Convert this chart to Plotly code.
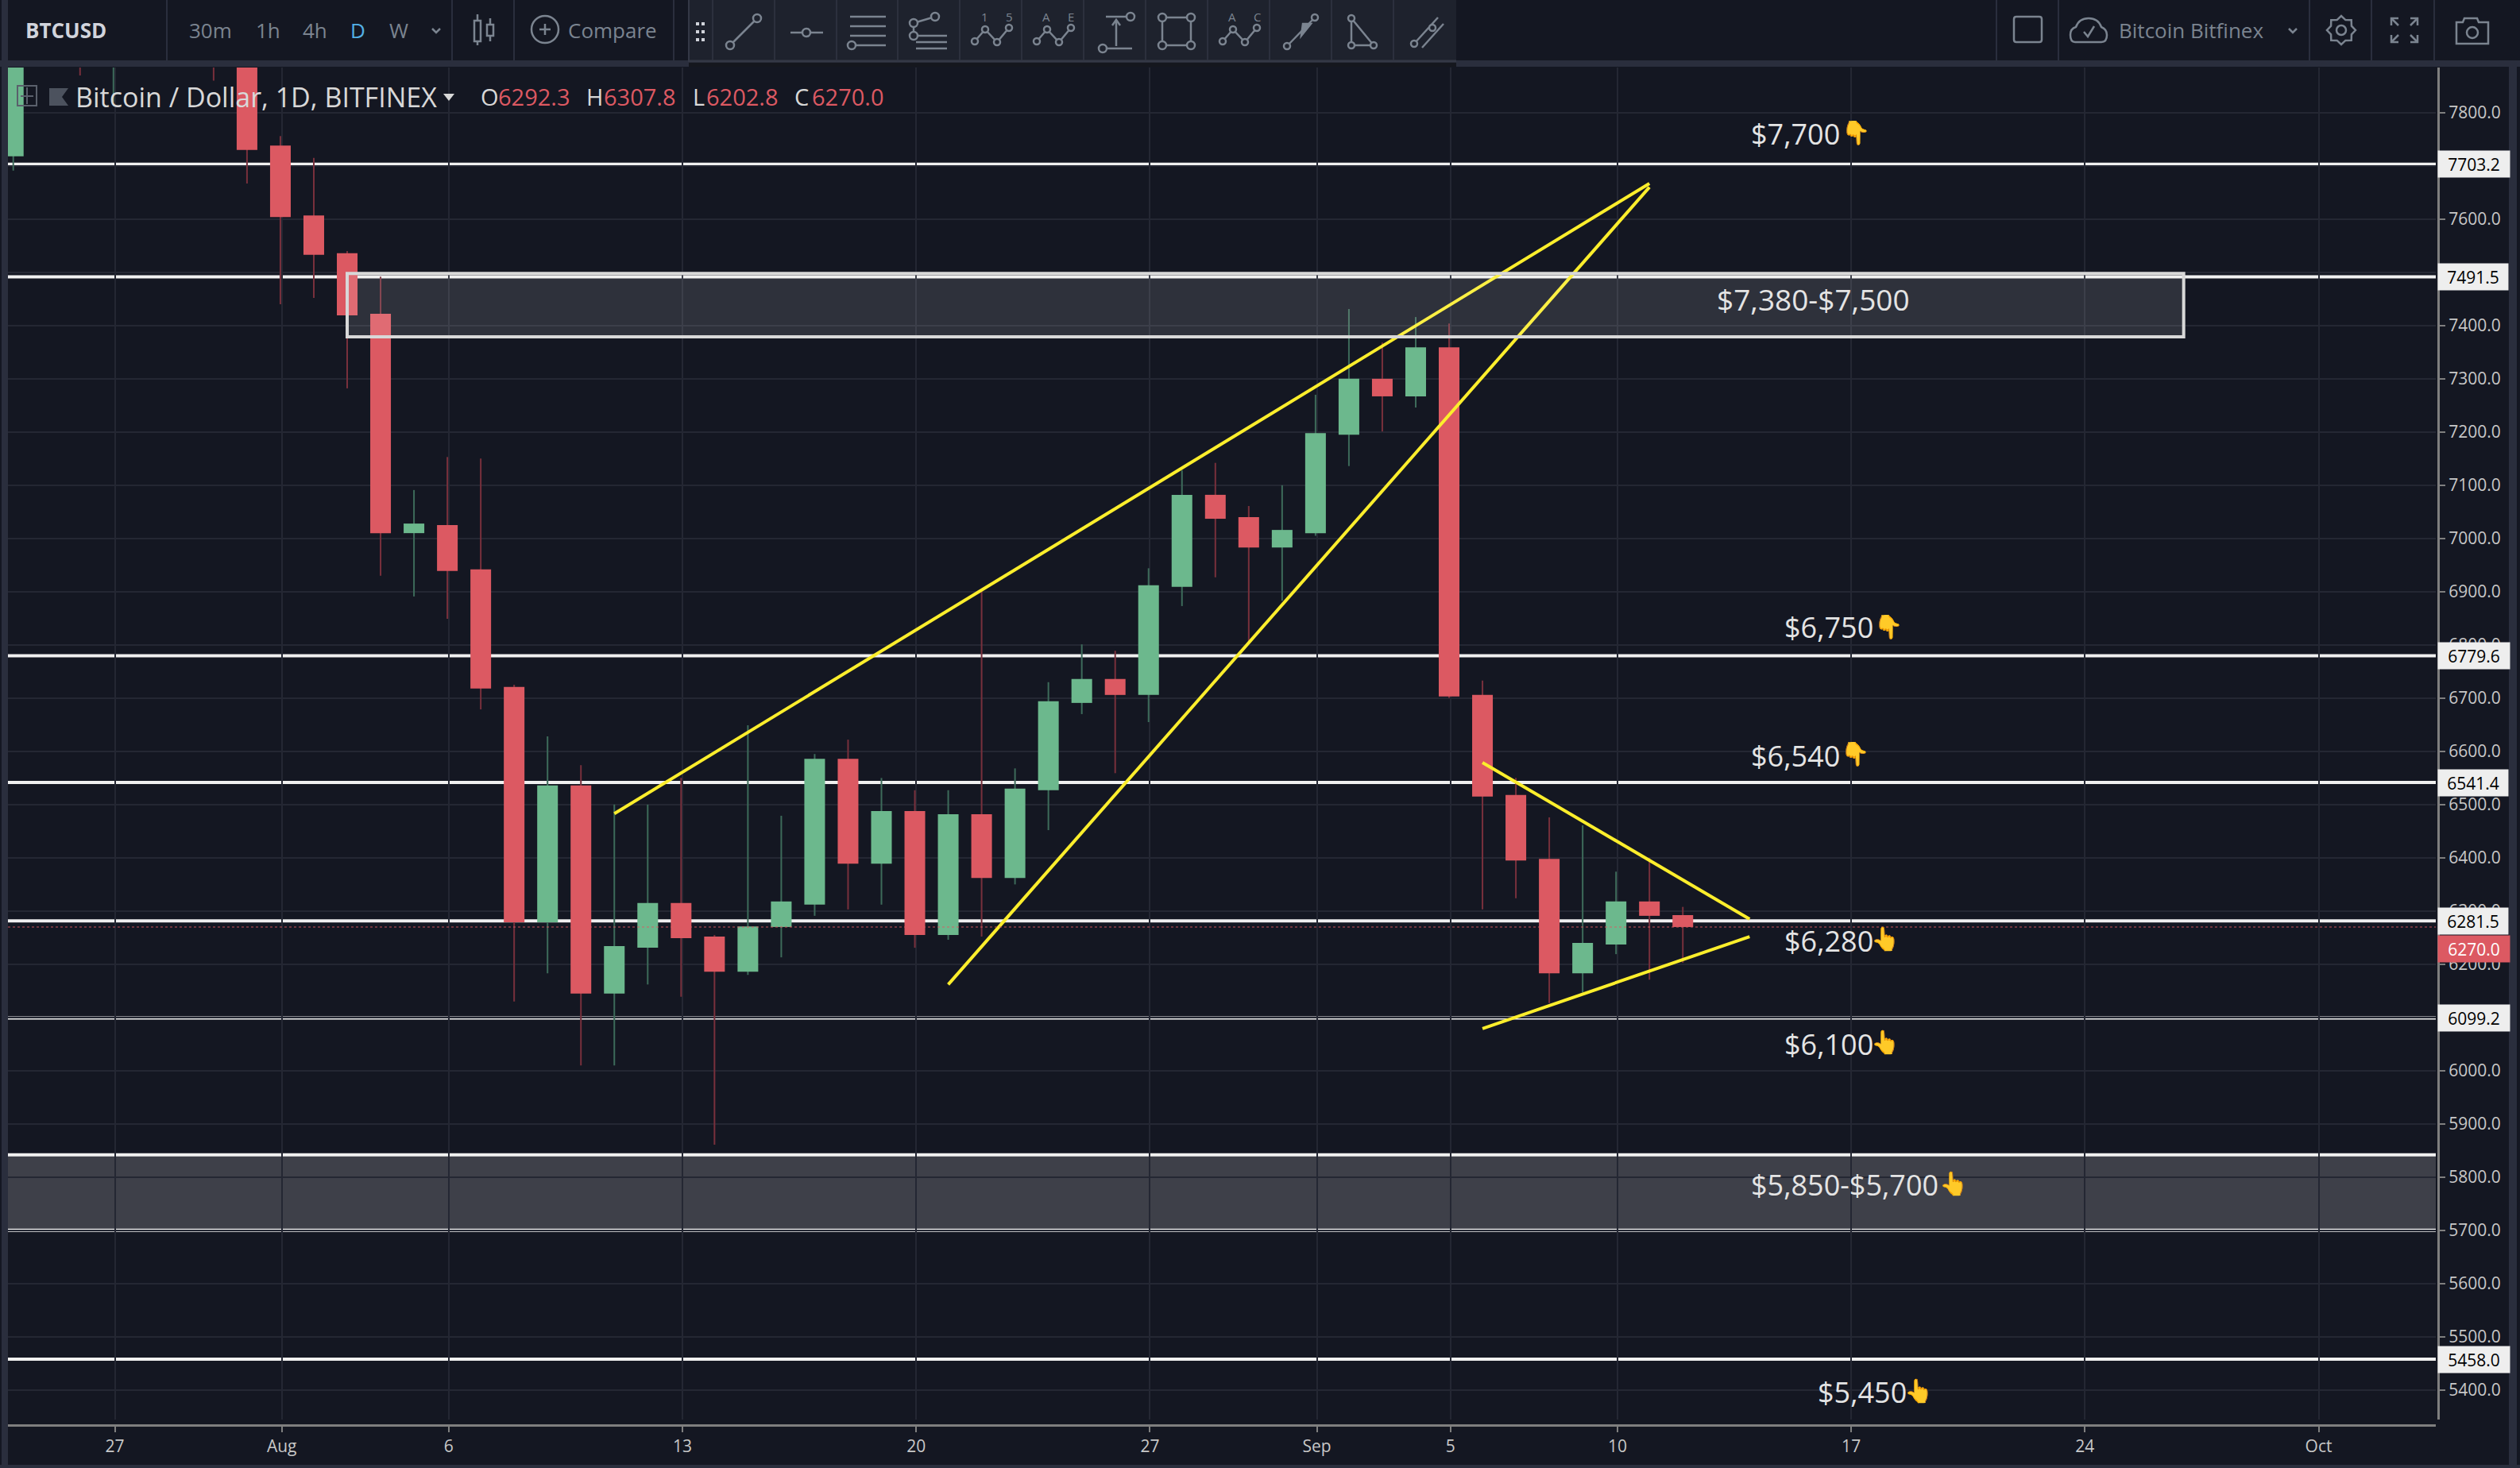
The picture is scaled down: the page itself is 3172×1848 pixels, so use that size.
import math
import pandas as pd
import plotly.graph_objects as go

# daily BTCUSD candles, first day 2018-07-24 (the ones above the chart top are only partly visible)
first_day = "2018-07-24"
opens = [7718, 8400, 8170, 7935, 8190, 8230, 8210, 8170, 7738, 7607, 7536, 7422, 7010, 7025, 6942, 6721, 6279, 6536, 6145, 6231,
         6315, 6252, 6186, 6270, 6312, 6586, 6389, 6488, 6255, 6482, 6362, 6527, 6691, 6736, 6706, 6909, 7082, 7040, 6983, 7010,
         7195, 7300, 7267, 7359, 6706, 6518, 6398, 6183, 6237, 6318, 6292.3]
highs = [8480, 8490, 8320, 8280, 8250, 8300, 8270, 8220, 7756, 7715, 7540, 7492, 7091, 7153, 7150, 6725, 6628, 6574, 6500, 6500,
         6550, 6255, 6649, 6479, 6595, 6622, 6550, 6527, 6527, 6903, 6568, 6730, 6801, 6789, 6944, 7128, 7142, 7061, 7100, 7270,
         7431, 7368, 7416, 7404, 6733, 6550, 6476, 6461, 6374, 6400, 6307.8]
lows = [7691, 8070, 7870, 7820, 8100, 8130, 7860, 7667, 7440, 7452, 7282, 6930, 6891, 6849, 6679, 6130, 6183, 6010, 6010, 6162,
        6139, 5861, 6180, 6213, 6291, 6303, 6312, 6231, 6246, 6252, 6350, 6452, 6670, 6559, 6655, 6873, 6927, 6804, 6883, 7005,
        7136, 7201, 7246, 6700, 6303, 6324, 6127, 6147, 6219, 6171, 6202.8]
closes = [8400, 8170, 7935, 8190, 8230, 8210, 8170, 7730, 7604, 7533, 7419, 7010, 7028, 6939, 6718, 6279, 6536, 6145, 6234, 6315,
          6249, 6186, 6271, 6318, 6586, 6389, 6488, 6255, 6482, 6362, 6530, 6694, 6736, 6706, 6912, 7082, 7037, 6983, 7016, 7198,
          7300, 7267, 7359, 6703, 6515, 6395, 6183, 6240, 6318, 6291, 6270.0]

# horizontal levels drawn on the chart
labelled_levels = [7703.2, 7491.5, 6779.6, 6541.4, 6281.5, 6099.2, 5458.0]
band_levels = [5842, 5700]
last_price = 6270.0
zone_top = 7498
zone_bottom = 7379
zone_start = "2018-08-03"
zone_end = "2018-09-27"

# trend lines
wedge_upper_x = ["2018-08-11", "2018-09-11"]
wedge_upper_y = [6483, 7667]
wedge_lower_x = ["2018-08-21", "2018-09-11"]
wedge_lower_y = [6162, 7660]
triangle_upper_x = ["2018-09-06", "2018-09-14"]
triangle_upper_y = [6579, 6285]
triangle_lower_x = ["2018-09-06", "2018-09-14"]
triangle_lower_y = [6079, 6252]

# axes
x_tick_dates = ["2018-07-27", "2018-08-01", "2018-08-06", "2018-08-13", "2018-08-20", "2018-08-27",
                "2018-09-01", "2018-09-05", "2018-09-10", "2018-09-17", "2018-09-24", "2018-10-01"]
x_tick_labels = ["27", "Aug", "6", "13", "20", "27", "Sep", "5", "10", "17", "24", "Oct"]
y_tick_values = [5400, 5500, 5600, 5700, 5800, 5900, 6000, 6100, 6200, 6300, 6400, 6500, 6600,
                 6700, 6800, 6900, 7000, 7100, 7200, 7300, 7400, 7500, 7600, 7700, 7800]

W, H = 3172, 1848
BG = "#141722"
STRIP = "#2a2e3d"
PANEL = "#1e222d"
ICON = "#7b8490"
UP = "#6cb88d"
DOWN = "#dc5962"
UP_WICK = "#3d6b5a"
DOWN_WICK = "#78303c"
YELLOW = "#fcee2c"
WHITE_LINE = "#f0f0f0"
FONT = "Open Sans"


def fx(x):
    return x / W


def fy(y):
    return 1 - y / H


shapes = []
annots = []


def seg(x0, y0, x1, y1, color=ICON, w=2.5):
    shapes.append(dict(type="line", xref="paper", yref="paper", x0=fx(x0), x1=fx(x1), y0=fy(y0), y1=fy(y1),
                       line=dict(color=color, width=w)))


def box(x0, y0, x1, y1, fill="rgba(0,0,0,0)", color=None, w=0):
    shapes.append(dict(type="rect", xref="paper", yref="paper", x0=fx(x0), x1=fx(x1), y0=fy(y0), y1=fy(y1),
                       fillcolor=fill, line=dict(color=color, width=w)))


def dot(cx, cy, r, color=ICON, w=2.5, fill=PANEL):
    shapes.append(dict(type="circle", xref="paper", yref="paper", x0=fx(cx - r), x1=fx(cx + r), y0=fy(cy - r), y1=fy(cy + r),
                       fillcolor=fill, line=dict(color=color, width=w)))


def path(cmds, fill="rgba(0,0,0,0)", color=ICON, w=2.5):
    parts = []
    for c in cmds:
        if c == "Z":
            parts.append("Z")
            continue
        nums = [fx(v) if i % 2 == 0 else fy(v) for i, v in enumerate(c[1:])]
        parts.append(c[0] + " " + " ".join(str(round(n, 6)) for n in nums))
    shapes.append(dict(type="path", xref="paper", yref="paper", path=" ".join(parts), fillcolor=fill,
                       line=dict(color=color, width=w)))


def label(text, x, y, size, color, anchor="left", **kw):
    annots.append(dict(text=text, xref="paper", yref="paper", x=fx(x), y=fy(y), xanchor=anchor, yanchor="middle",
                       showarrow=False, font=dict(family=FONT, size=size, color=color), **kw))


# left, right, bottom and toolbar strips
box(0, 76, W, 84, fill=STRIP)
box(2, 0, 10, H, fill=STRIP)
box(3158, 84, 3168, H, fill=STRIP)
box(0, 1844, W, H, fill=STRIP)
for sep in [210, 569, 647, 848, 2513, 2591, 2907, 2985, 3064]:
    seg(sep, 0, sep, 76, color=STRIP, w=2)

# top toolbar text
label("<b>BTCUSD</b>", 83, 38, 26, "#d1d4dc", "center")
for txt, cx, col in [("30m", 265, ICON), ("1h", 337, ICON), ("4h", 396, ICON), ("D", 450, "#53b0e6"), ("W", 502, ICON)]:
    label(txt, cx, 38, 26, col, "center")
path([("M", 544, 36), ("L", 549, 41), ("L", 554, 36)])
# candle style icon
seg(601, 18, 601, 57)
box(597, 26, 605, 52, fill=BG, color=ICON, w=2.5)
seg(617, 23, 617, 52)
box(613, 31, 621, 45, fill=BG, color=ICON, w=2.5)
# compare
dot(686, 37, 17, fill=BG)
seg(679, 37, 693, 37)
seg(686, 30, 686, 44)
label("Compare", 771, 38, 26, ICON, "center")

# drawing tools panel
box(867, 0, 1833, 79, fill=PANEL)
box(867, 79, 1833, 84, fill="rgba(0,0,0,0.5)")
seg(867, 77, 1833, 77, color="#343846", w=3)
seg(867, 0, 867, 78, color="#343846", w=2)
for sep in [897, 975, 1053, 1130, 1208, 1286, 1364, 1442, 1520, 1598, 1676, 1754]:
    seg(sep, 0, sep, 76, color="#2c303d", w=2)
for dx in [878, 885]:
    for dy in [30, 40, 50]:
        box(dx - 2, dy - 2, dx + 2, dy + 2, fill="#d0d3da")
# trend line
seg(919, 57, 953, 23)
dot(919, 57, 5)
dot(953, 23, 5)
# horizontal ray
seg(995, 41, 1036, 41)
dot(1015, 41, 5)
# pitchfork lines
for ly in [21, 33, 45]:
    seg(1070, ly, 1115, ly)
seg(1076, 57, 1115, 57)
dot(1072, 57, 5)
# fib fan
seg(1177, 21, 1150, 29)
seg(1150, 29, 1150, 45)
for ly in [45, 53, 61]:
    seg(1153, ly, 1192, ly)
dot(1177, 21, 5)
dot(1150, 29, 5)
dot(1150, 45, 5)
# wave icons
for offset, a, b in [(0, "1", "5"), (78, "A", "E"), (312, "A", "C")]:
    pts = [(1227, 52), (1240, 37), (1255, 53), (1270, 35)]
    pts = [(p[0] + offset, p[1]) for p in pts]
    path([("M",) + pts[0]] + [("L",) + p for p in pts[1:]])
    for p in pts:
        dot(p[0], p[1], 4)
    label(a, pts[0][0] + 12, 21, 15, ICON, "center")
    label(b, pts[3][0] - 0, 21, 15, ICON, "center")
# measure
seg(1392, 21, 1425, 21)
seg(1392, 61, 1425, 61)
seg(1405, 25, 1405, 58)
dot(1423, 21, 5)
dot(1388, 61, 5)
path([("M", 1400, 32), ("L", 1405, 25), ("L", 1410, 32)])
# rectangle
box(1463, 22, 1499, 57, color=ICON, w=2.5)
for cx, cy in [(1463, 22), (1499, 22), (1463, 57), (1499, 57)]:
    dot(cx, cy, 5)
# arrow
seg(1620, 58, 1655, 22)
dot(1620, 58, 4)
dot(1655, 22, 4)
path([("M", 1640, 30), ("L", 1638, 45), ("L", 1650, 30), "Z"], fill=ICON)
# triangle
path([("M", 1701, 23), ("L", 1701, 57), ("L", 1729, 57), "Z"])
dot(1701, 23, 4)
dot(1701, 57, 4)
dot(1729, 57, 4)
# parallel
seg(1780, 55, 1810, 22)
seg(1790, 60, 1817, 30)
dot(1780, 55, 4)
dot(1803, 35, 4)

# right side of the toolbar
path([("M", 2538, 21), ("L", 2567, 21), ("Q", 2570, 21, 2570, 24), ("L", 2570, 50), ("Q", 2570, 53, 2567, 53), ("L", 2538, 53),
      ("Q", 2535, 53, 2535, 50), ("L", 2535, 24), ("Q", 2535, 21, 2538, 21), "Z"])
path([("M", 2612, 53), ("Q", 2606, 53, 2606, 44), ("Q", 2606, 36, 2613, 34), ("Q", 2617, 23, 2629, 23), ("Q", 2641, 23, 2645, 34),
      ("Q", 2652, 37, 2652, 44), ("Q", 2652, 53, 2645, 53), "Z"])
path([("M", 2623, 40), ("L", 2628, 46), ("L", 2636, 33)])
label("Bitcoin Bitfinex", 2758, 38, 26, ICON, "center")
path([("M", 2881, 36), ("L", 2886, 41), ("L", 2891, 36)])
# gear
teeth = []
for k in range(16):
    r = 18 if k % 2 == 0 else 14
    a = k * math.pi / 8
    teeth.append(("M" if k == 0 else "L", 2947 + r * math.cos(a), 38 + r * math.sin(a)))
path(teeth + ["Z"])
dot(2947, 38, 6, fill=BG)
# full screen
for sx, sy in [(3010, 23), (3043, 23), (3010, 53), (3043, 53)]:
    ix = 1 if sx < 3025 else -1
    iy = 1 if sy < 38 else -1
    path([("M", sx + 9 * ix, sy), ("L", sx, sy), ("L", sx, sy + 9 * iy)])
    seg(sx, sy, sx + 9 * ix, sy + 9 * iy)
# camera
path([("M", 3092, 28), ("L", 3100, 28), ("L", 3102, 23), ("L", 3118, 23), ("L", 3120, 28), ("L", 3132, 28), ("L", 3132, 55), ("L", 3092, 55), "Z"])
dot(3112, 41, 7, fill=BG)

# legend row
box(22, 108, 46, 133, color="#5a606c", w=2)
seg(34, 110, 34, 131, color="#5a606c", w=2)
seg(26, 121, 42, 121, color="#5a606c", w=2)
path([("M", 62, 111), ("L", 86, 111), ("L", 78, 122), ("L", 86, 133), ("L", 62, 133), "Z"], fill="#4c525e", color="#4c525e", w=0)
label("Bitcoin / Dollar, 1D, BITFINEX", 93, 122, 34, "#d8d8d8")
path([("M", 558, 118), ("L", 572, 118), ("L", 565, 127), "Z"], fill="#d8d8d8", color="#d8d8d8", w=0)
for letter, lx, value, vx in [("O", 603, opens[-1], 625), ("H", 736, highs[-1], 758), ("L", 870, lows[-1], 887), ("C", 998, closes[-1], 1020)]:
    label(letter, lx, 122, 29, "#d8d8d8")
    label(f"{value:.1f}", vx, 122, 29, DOWN)

# level texts with the hand pointing at the level
for txt, x, y, hand, hx, hy in [("$7,700", 2202, 168, "👇", 2336, 166), ("$6,750", 2244, 789, "👇", 2377, 787),
                                ("$6,540", 2202, 951, "👇", 2335, 947), ("$6,280", 2244, 1184, "👆", 2373, 1180),
                                ("$6,100", 2244, 1314, "👆", 2373, 1310), ("$5,850-$5,700", 2202, 1491, "👆", 2459, 1488),
                                ("$5,450", 2286, 1752, "👆", 2415, 1749)]:
    label(txt, x, y, 36, "#e4e4e4")
    label(hand, hx, hy, 29, "#f4b73c", "center")
label("$7,380-$7,500", 2282, 376, 37, "#e4e4e4", "center")

# plot shapes in data coordinates
for lv in labelled_levels + band_levels:
    shapes.append(dict(type="line", xref="paper", yref="y", x0=fx(10), x1=fx(3066), y0=lv, y1=lv, layer="between",
                       line=dict(color=WHITE_LINE, width=4)))
shapes.append(dict(type="rect", xref="paper", yref="y", x0=fx(10), x1=fx(3066), y0=band_levels[1], y1=band_levels[0], layer="between",
                   fillcolor="rgba(255,255,255,0.18)", line=dict(width=0)))
shapes.append(dict(type="rect", xref="x", yref="y", x0=zone_start, x1=zone_end, y0=zone_bottom, y1=zone_top, layer="above",
                   fillcolor="rgba(255,255,255,0.115)", line=dict(color="#d8d8d8", width=4)))
shapes.append(dict(type="line", xref="paper", yref="y", x0=fx(10), x1=fx(3066), y0=last_price, y1=last_price, layer="above",
                   line=dict(color="rgba(220,89,98,0.45)", width=2, dash="dot")))

# price boxes on the axis
for lv in labelled_levels:
    txt = f"{lv:.1f}"
    annots.append(dict(text=txt, xref="paper", yref="y", x=fx(3068), y=lv, xanchor="left", yanchor="middle", showarrow=False,
                       width=88 if "1" in txt else 90, height=33, bgcolor="#eeeeee", borderpad=0,
                       font=dict(family=FONT, size=21, color="#000000")))
annots.append(dict(text=f"{last_price:.1f}", xref="paper", yref="y", x=fx(3068), y=last_price, yshift=-28, xanchor="left", yanchor="middle",
                   showarrow=False, width=90, height=33, bgcolor=DOWN, borderpad=0,
                   font=dict(family=FONT, size=21, color="#ffffff")))

days = pd.date_range(first_day, periods=len(opens))
is_up = [c >= o for o, c in zip(opens, closes)]
DAY_MS = 86400000

fig = go.Figure()
fig.add_trace(go.Bar(x=days, y=[h - l for h, l in zip(highs, lows)], base=lows, width=DAY_MS * 2 / 42,
                     marker=dict(color=[UP_WICK if u else DOWN_WICK for u in is_up], line=dict(width=0)), hoverinfo="skip"))
fig.add_trace(go.Bar(x=days, y=[abs(c - o) for o, c in zip(opens, closes)], base=[min(o, c) for o, c in zip(opens, closes)],
                     width=DAY_MS * 26 / 42, marker=dict(color=[UP if u else DOWN for u in is_up], line=dict(width=0))))
for lx, ly in [(wedge_upper_x, wedge_upper_y), (wedge_lower_x, wedge_lower_y),
               (triangle_upper_x, triangle_upper_y), (triangle_lower_x, triangle_lower_y)]:
    fig.add_trace(go.Scatter(x=lx, y=ly, mode="lines", line=dict(color=YELLOW, width=4)))

# grid sits about 2px right of the candle centres in the reference
tick_pos = [pd.Timestamp(d) + pd.Timedelta(hours=1) for d in x_tick_dates]

fig.update_layout(
    width=W, height=H, margin=dict(l=0, r=0, t=0, b=0),
    paper_bgcolor=BG, plot_bgcolor=BG,
    barmode="overlay", showlegend=False,
    font=dict(family=FONT, color="#c8c8c8"),
    shapes=shapes, annotations=annots,
    xaxis=dict(type="date", domain=[fx(10), fx(3066)], range=["2018-07-23 20:10", "2018-10-04 13:12"],
               anchor="free", position=fy(1794), side="bottom",
               tickmode="array", tickvals=tick_pos, ticktext=x_tick_labels, tickfont=dict(size=21, color="#c8c8c8"),
               ticks="outside", ticklen=7, tickwidth=2, tickcolor="#7f7f7f",
               showline=True, linecolor="#7f7f7f", linewidth=3,
               showgrid=True, gridcolor="#242733", gridwidth=2, zeroline=False),
    yaxis=dict(domain=[fy(1787), fy(85)], range=[5344.6, 7884.8], side="right",
               anchor="free", position=fx(3069),
               tickmode="array", tickvals=y_tick_values, ticktext=[f"{v:.1f}" for v in y_tick_values],
               tickfont=dict(size=21, color="#c8c8c8"),
               ticks="outside", ticklen=7, tickwidth=2, tickcolor="#7f7f7f",
               showline=True, linecolor="#7f7f7f", linewidth=3,
               showgrid=True, gridcolor="#242733", gridwidth=2, zeroline=False),
)

fig.write_html("out.html", config={"displayModeBar": False},
               post_script="document.body.style.margin='0';document.body.style.overflow='hidden';")
